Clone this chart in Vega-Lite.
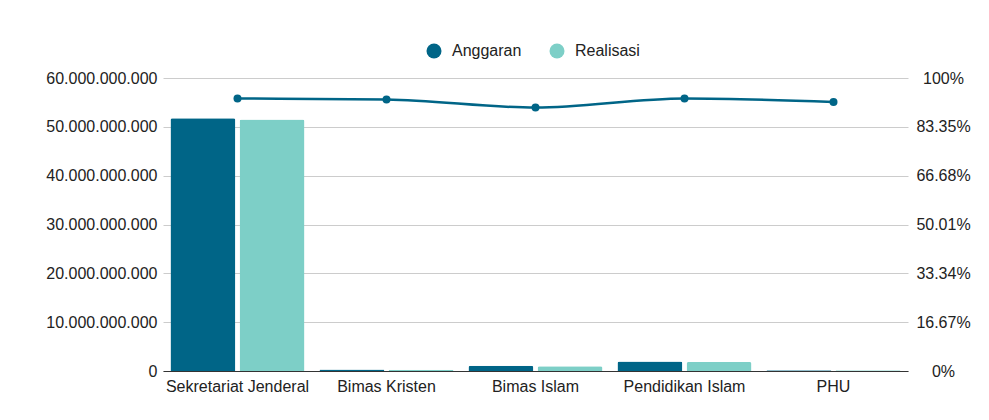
{
  "$schema": "https://vega.github.io/schema/vega-lite/v6.json",
  "width": 745,
  "height": 293,
  "autosize": {"type": "none"},
  "padding": {"left": 163, "top": 78, "right": 81, "bottom": 49},
  "background": "white",
  "config": {
    "font": "Liberation Sans",
    "view": {"stroke": null},
    "axis": {"labelFont": "Liberation Sans", "labelFontSize": 16, "labelColor": "#222222"},
    "legend": {"labelFont": "Liberation Sans", "labelFontSize": 16, "labelColor": "#222222"}
  },
  "datasets": {
    "bars": [
      {"kategori": "Sekretariat Jenderal", "seri": "Anggaran", "nilai": 51750000000},
      {"kategori": "Sekretariat Jenderal", "seri": "Realisasi", "nilai": 51500000000},
      {"kategori": "Bimas Kristen", "seri": "Anggaran", "nilai": 300000000},
      {"kategori": "Bimas Kristen", "seri": "Realisasi", "nilai": 260000000},
      {"kategori": "Bimas Islam", "seri": "Anggaran", "nilai": 1050000000},
      {"kategori": "Bimas Islam", "seri": "Realisasi", "nilai": 950000000},
      {"kategori": "Pendidikan Islam", "seri": "Anggaran", "nilai": 1920000000},
      {"kategori": "Pendidikan Islam", "seri": "Realisasi", "nilai": 1850000000},
      {"kategori": "PHU", "seri": "Anggaran", "nilai": 150000000},
      {"kategori": "PHU", "seri": "Realisasi", "nilai": 130000000}
    ],
    "garis": [
      {"kategori": "Sekretariat Jenderal", "persen": 0.930},
      {"kategori": "Bimas Kristen", "persen": 0.927},
      {"kategori": "Bimas Islam", "persen": 0.899},
      {"kategori": "Pendidikan Islam", "persen": 0.930},
      {"kategori": "PHU", "persen": 0.918}
    ]
  },
  "layer": [
    {
      "data": {"name": "bars"},
      "mark": {"type": "bar", "cornerRadiusTopLeft": 2, "cornerRadiusTopRight": 2},
      "encoding": {
        "x": {
          "field": "kategori",
          "type": "nominal",
          "sort": ["Sekretariat Jenderal", "Bimas Kristen", "Bimas Islam", "Pendidikan Islam", "PHU"],
          "scale": {"paddingInner": 0.1, "paddingOuter": 0.05},
          "axis": {"title": null, "labelAngle": 0, "ticks": false, "domainColor": "#333333", "domainWidth": 1, "labelPadding": 7}
        },
        "xOffset": {
          "field": "seri",
          "type": "nominal",
          "sort": ["Anggaran", "Realisasi"],
          "scale": {"paddingInner": 0.06}
        },
        "y": {
          "field": "nilai",
          "type": "quantitative",
          "scale": {"domain": [0, 60000000000], "nice": false},
          "axis": {
            "title": null,
            "values": [0, 10000000000, 20000000000, 30000000000, 40000000000, 50000000000, 60000000000],
            "labelExpr": "replace(format(datum.value, ','), regexp(',', 'g'), '.')",
            "domain": false,
            "ticks": false,
            "grid": true,
            "gridColor": "#cccccc",
            "labelPadding": 6
          }
        },
        "color": {
          "field": "seri",
          "type": "nominal",
          "scale": {"domain": ["Anggaran", "Realisasi"], "range": ["#006587", "#7dcfc7"]},
          "legend": {
            "title": null,
            "orient": "none",
            "legendX": 263,
            "legendY": -35,
            "direction": "horizontal",
            "symbolType": "circle",
            "symbolSize": 225,
            "symbolStrokeWidth": 0,
            "labelOffset": 10,
            "columnPadding": 27,
            "padding": 0
          }
        }
      }
    },
    {
      "data": {"name": "garis"},
      "mark": {
        "type": "line",
        "interpolate": "monotone",
        "color": "#006587",
        "strokeWidth": 2.5,
        "point": {"filled": true, "size": 64, "color": "#006587"}
      },
      "encoding": {
        "x": {
          "field": "kategori",
          "type": "nominal",
          "sort": ["Sekretariat Jenderal", "Bimas Kristen", "Bimas Islam", "Pendidikan Islam", "PHU"]
        },
        "y": {
          "field": "persen",
          "type": "quantitative",
          "scale": {"domain": [0, 1], "nice": false},
          "axis": {
            "title": null,
            "orient": "right",
            "values": [0, 0.16666667, 0.33333333, 0.5, 0.66666667, 0.83333333, 1],
            "labelExpr": "datum.value == 0 ? '0%' : (datum.value >= 0.999 ? '100%' : format(round(datum.value * 6) * 16.67, '.2f') + '%')",
            "domain": false,
            "ticks": false,
            "grid": false,
            "labelAlign": "center",
            "labelPadding": 35
          }
        }
      }
    }
  ],
  "resolve": {"scale": {"y": "independent"}}
}
